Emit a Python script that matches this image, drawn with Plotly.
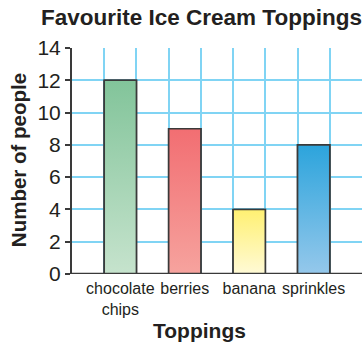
import plotly.graph_objects as go

# Chart data
toppings = ["chocolate<br>chips", "berries", "banana", "sprinkles"]
people = [12, 9, 4, 8]
top_colors = ["#82C49A", "#F26E72", "#FFF072", "#2CA4DC"]
bottom_colors = ["#C6E3CD", "#F6A39E", "#FFFAD6", "#95C8EB"]
y_ticks = [0, 2, 4, 6, 8, 10, 12, 14]

BAR_W = 0.5
TEXT = "#231F20"
OUTLINE = "#3A3A3A"
GRID = "#80D4F4"

fig = go.Figure()

# Base bars (outline + data)
fig.add_trace(go.Bar(
    x=list(range(len(toppings))),
    y=people,
    width=BAR_W,
    marker=dict(color=top_colors, line=dict(color=OUTLINE, width=1.6)),
    hoverinfo="skip",
    showlegend=False,
))

# Vertical gradient fill drawn over each bar
for i, (v, c_top, c_bot) in enumerate(zip(people, top_colors, bottom_colors)):
    x0, x1 = i - BAR_W / 2, i + BAR_W / 2
    fig.add_trace(go.Scatter(
        x=[x0, x0, x1, x1, x0],
        y=[0, v, v, 0, 0],
        mode="lines",
        fill="toself",
        fillgradient=dict(type="vertical", colorscale=[[0, c_bot], [1, c_top]]),
        line=dict(color=OUTLINE, width=1.6),
        hovertemplate=f"{toppings[i].replace('<br>', ' ')}: {v}<extra></extra>",
        showlegend=False,
    ))

n = len(toppings)
col_edges = [i - BAR_W / 2 for i in range(n)] + [i + BAR_W / 2 for i in range(n)]

fig.update_layout(
    width=364,
    height=342,
    margin=dict(l=72, r=2, t=48, b=68),
    paper_bgcolor="white",
    plot_bgcolor="white",
    font=dict(family="Liberation Sans, Arial, sans-serif", color=TEXT),
    xaxis=dict(
        range=[-0.75, n - 0.25],
        tickmode="array",
        tickvals=list(range(n)),
        ticktext=toppings,
        ticks="",
        ticklabelstandoff=3,
        showgrid=False,
        zeroline=False,
        showline=False,
        tickfont=dict(size=16, color=TEXT),
        minor=dict(
            tickmode="array",
            tickvals=sorted(col_edges),
            showgrid=True,
            gridcolor=GRID,
            gridwidth=1.5,
            ticks="",
        ),
        fixedrange=True,
    ),
    yaxis=dict(
        range=[0, 14],
        tickmode="array",
        tickvals=y_ticks,
        ticks="outside",
        ticklen=5,
        tickwidth=1.5,
        tickcolor=OUTLINE,
        showgrid=True,
        gridcolor=GRID,
        gridwidth=1.5,
        zeroline=False,
        showline=True,
        linecolor=OUTLINE,
        linewidth=2,
        tickfont=dict(size=21, color=TEXT),
        fixedrange=True,
    ),
    shapes=[dict(
        type="line", xref="paper", yref="y",
        x0=0, x1=1, y0=0, y1=0,
        line=dict(color=OUTLINE, width=2.5),
    )],
    annotations=[
        dict(text="<b>Favourite Ice Cream Toppings</b>", xref="paper", yref="paper",
             x=0.445, y=1.133, xanchor="center", yanchor="middle",
             showarrow=False, font=dict(size=22.5, color=TEXT)),
        dict(text="<b>Toppings</b>", xref="paper", yref="paper",
             x=0.441, y=-0.248, xanchor="center", yanchor="middle",
             showarrow=False, font=dict(size=21, color=TEXT)),
        dict(text="<b>Number of people</b>", xref="paper", yref="paper",
             x=-0.186, y=0.504, xanchor="center", yanchor="middle", textangle=-90,
             showarrow=False, font=dict(size=20.5, color=TEXT)),
    ],
)

fig.write_html("out.html")
